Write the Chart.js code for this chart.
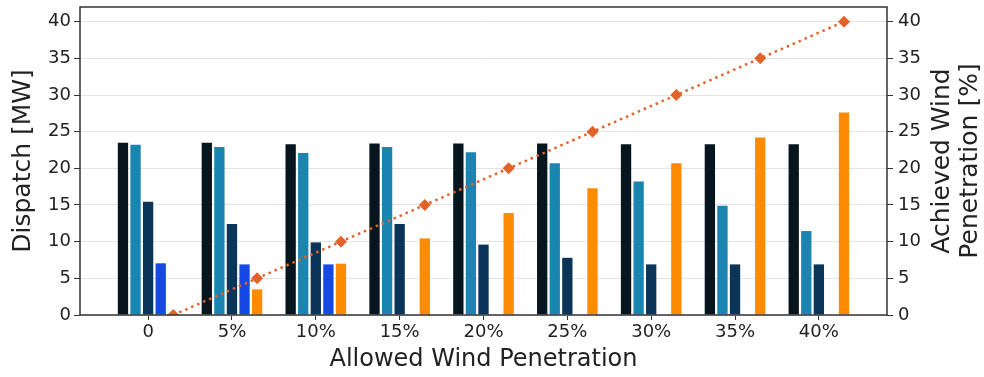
<!DOCTYPE html>
<html>
<head>
<meta charset="utf-8">
<script src="https://cdn.jsdelivr.net/npm/chart.js@4/dist/chart.umd.min.js"></script>
<style>
  html, body { margin: 0; padding: 0; background: #ffffff; }
  #c { display: block; }
</style>
</head>
<body>
<canvas id="c" width="984" height="377"></canvas>
<script>
// Allowed wind penetration levels (x categories)
const categories = ['0', '5%', '10%', '15%', '20%', '25%', '30%', '35%', '40%'];

// Dispatch per unit [MW]
const unit1 = [23.5, 23.5, 23.3, 23.4, 23.4, 23.4, 23.3, 23.3, 23.3];
const unit2 = [23.2, 22.9, 22.1, 22.9, 22.2, 20.7, 18.2, 14.9, 11.45];
const unit3 = [15.45, 12.4, 9.9, 12.4, 9.6, 7.8, 6.9, 6.9, 6.9];
const unit4 = [7.05, 6.9, 6.9, 0, 0, 0, 0, 0, 0];
const windDispatch = [0, 3.5, 7.0, 10.45, 13.9, 17.3, 20.7, 24.2, 27.6];

// Achieved wind penetration [%]
const achieved = [0, 5, 10, 15, 20, 25, 30, 35, 40];

// Axis ticks and titles
const yTicks = [0, 5, 10, 15, 20, 25, 30, 35, 40];
const xTitle = 'Allowed Wind Penetration';
const yTitle = 'Dispatch [MW]';
const y2Title = ['Achieved Wind', 'Penetration [%]'];

const FONT = "'DejaVu Sans', sans-serif";
const TEXT = '#222222';

const toPoints = (arr, shift) => arr.map((v, i) => ({ x: i + shift, y: v }));

function barSet(label, values, color) {
  return {
    type: 'bar',
    label,
    data: toPoints(values, 0),
    backgroundColor: color,
    borderWidth: 0,
    categoryPercentage: 0.75,
    barPercentage: 0.82,
    yAxisID: 'y',
    order: 1
  };
}

function noScalePadding(scale) {
  scale.paddingTop = 0;
  scale.paddingBottom = 0;
  scale.paddingLeft = 0;
  scale.paddingRight = 0;
}

// Box around the plot area plus the right-hand title (reads bottom to top)
const framePlugin = {
  id: 'frame',
  afterDraw(chart) {
    const { ctx, chartArea: a } = chart;
    ctx.save();
    ctx.strokeStyle = '#333333';
    ctx.lineWidth = 1.5;
    ctx.strokeRect(a.left, a.top, a.right - a.left, a.bottom - a.top);

    ctx.fillStyle = TEXT;
    ctx.font = '25px ' + FONT;
    ctx.textAlign = 'center';
    ctx.textBaseline = 'middle';
    const midY = (a.top + a.bottom) / 2;
    const offsets = [55, 83];
    y2Title.forEach((line, k) => {
      ctx.save();
      ctx.translate(a.right + offsets[k], midY);
      ctx.rotate(-Math.PI / 2);
      ctx.fillText(line, 0, 0);
      ctx.restore();
    });
    ctx.restore();
  }
};

new Chart(document.getElementById('c'), {
  data: {
    datasets: [
      {
        type: 'line',
        label: 'Achieved penetration',
        data: toPoints(achieved, 0.3),
        borderColor: '#e2632a',
        backgroundColor: '#e2632a',
        borderWidth: 2.5,
        borderDash: [2.5, 4],
        pointStyle: 'rectRot',
        pointRadius: 6,
        pointBorderWidth: 0,
        fill: false,
        tension: 0,
        yAxisID: 'y2',
        order: 0
      },
      barSet('Unit 1', unit1, '#07151e'),
      barSet('Unit 2', unit2, '#1a85b1'),
      barSet('Unit 3', unit3, '#0a3559'),
      barSet('Unit 4', unit4, '#1549e6'),
      barSet('Wind', windDispatch, '#ff8c00')
    ]
  },
  options: {
    responsive: false,
    animation: false,
    devicePixelRatio: 1,
    layout: { padding: { top: 7, left: 0, right: 0, bottom: 0 } },
    plugins: {
      legend: { display: false },
      tooltip: { enabled: false }
    },
    scales: {
      x: {
        type: 'linear',
        offset: false,
        min: -0.8125,
        max: 8.8125,
        afterFit(scale) { scale.height = 62; noScalePadding(scale); },
        afterBuildTicks(scale) {
          scale.ticks = categories.map((_, i) => ({ value: i }));
        },
        ticks: {
          autoSkip: false,
          maxRotation: 0,
          includeBounds: false,
          padding: 2,
          color: TEXT,
          font: { family: FONT, size: 18 },
          callback: (v) => categories[v] ?? ''
        },
        grid: {
          offset: false,
          drawOnChartArea: false,
          tickLength: 5,
          tickColor: '#333333'
        },
        border: { display: false },
        title: {
          display: true,
          text: xTitle,
          color: TEXT,
          font: { family: FONT, size: 24 },
          padding: { top: 0, bottom: 3 }
        }
      },
      y: {
        position: 'left',
        min: 0,
        max: 42,
        afterFit(scale) { scale.width = 80; noScalePadding(scale); },
        afterBuildTicks(scale) {
          scale.ticks = yTicks.map(v => ({ value: v }));
        },
        ticks: {
          padding: 3,
          color: TEXT,
          font: { family: FONT, size: 18 }
        },
        grid: {
          color: '#e4e4e4',
          lineWidth: 1,
          tickLength: 6,
          tickColor: '#333333'
        },
        border: { display: false },
        title: {
          display: true,
          text: yTitle,
          color: TEXT,
          font: { family: FONT, size: 25 },
          padding: { top: 8, bottom: 0 }
        }
      },
      y2: {
        position: 'right',
        min: 0,
        max: 42,
        afterFit(scale) { scale.width = 97; noScalePadding(scale); },
        afterBuildTicks(scale) {
          scale.ticks = yTicks.map(v => ({ value: v }));
        },
        ticks: {
          padding: 5,
          color: TEXT,
          font: { family: FONT, size: 18 }
        },
        grid: {
          drawOnChartArea: false,
          tickLength: 6,
          tickColor: '#333333'
        },
        border: { display: false }
      }
    }
  },
  plugins: [framePlugin]
});
</script>
</body>
</html>
